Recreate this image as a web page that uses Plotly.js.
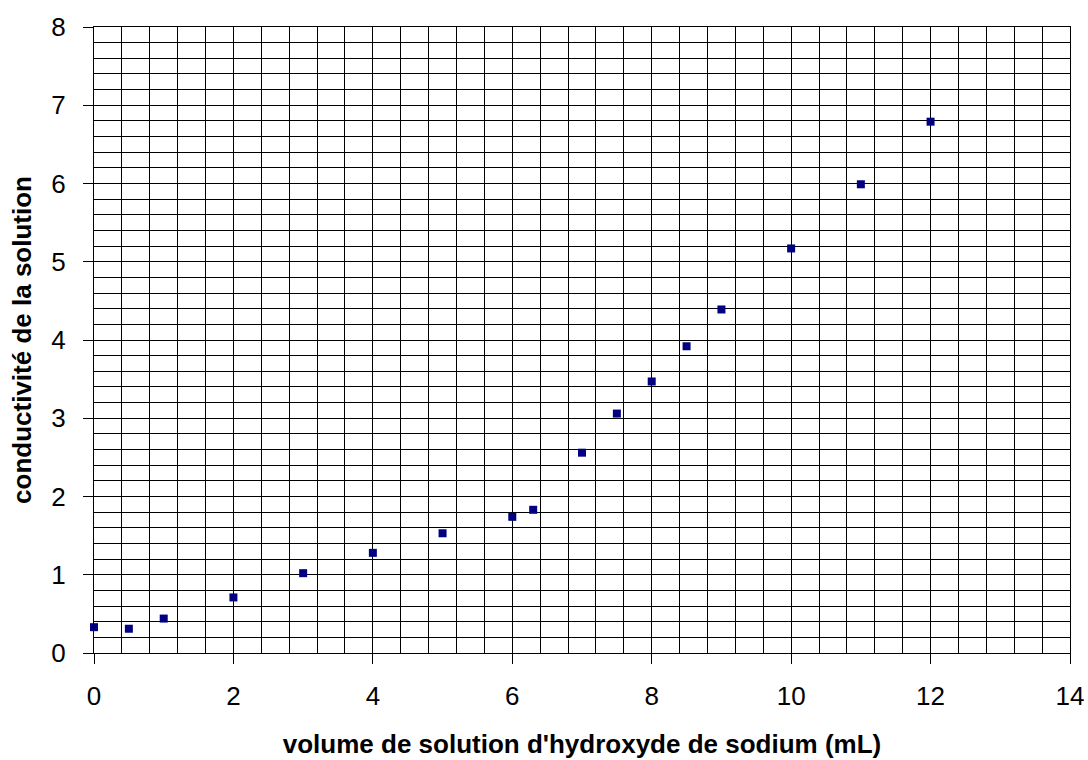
<!DOCTYPE html>
<html>
<head>
<meta charset="utf-8">
<script src="https://cdn.plot.ly/plotly-3.0.1.min.js"></script>
<style>html,body{margin:0;padding:0;background:#fff;}#chart{width:1088px;height:760px;}</style>
</head>
<body>
<div id="chart"></div>
<script>
const volume = [0, 0.5, 1, 2, 3, 4, 5, 6, 6.3, 7, 7.5, 8, 8.5, 9, 10, 11, 12];
const conductivite = [0.33, 0.31, 0.44, 0.71, 1.02, 1.28, 1.53, 1.74, 1.83, 2.56, 3.06, 3.47, 3.92, 4.39, 5.17, 5.99, 6.79];
const xTitle = "volume de solution d'hydroxyde de sodium (mL)";
const yTitle = "conductivité de la solution";

const trace = {
  x: volume, y: conductivite, type: 'scatter', mode: 'markers',
  marker: {symbol: 'square', size: 8, color: '#000080'},
  cliponaxis: false, hoverinfo: 'x+y'
};
const fam = 'Liberation Sans, Arial, sans-serif';
const layout = {
  width: 1088, height: 760,
  margin: {l: 94, r: 18, t: 27, b: 107},
  paper_bgcolor: '#fff', plot_bgcolor: '#fff',
  showlegend: false,
  font: {family: fam, color: '#000'},
  xaxis: {
    range: [0, 14], dtick: 2, tick0: 0,
    showgrid: true, gridcolor: '#000', gridwidth: 1,
    minor: {dtick: 0.4, tick0: 0, showgrid: true, gridcolor: '#000', gridwidth: 1, ticks: ''},
    ticks: 'outside', ticklen: 10, tickcolor: '#000', tickwidth: 1,
    ticklabelstandoff: 10,
    showline: true, linecolor: '#000', linewidth: 1, mirror: true,
    zeroline: false,
    tickfont: {family: fam, size: 26, color: '#000'},
    title: {text: xTitle, font: {family: fam, size: 26, color: '#000', weight: 'bold'}, standoff: 24}
  },
  yaxis: {
    range: [0, 8], dtick: 1, tick0: 0,
    showgrid: true, gridcolor: '#000', gridwidth: 1,
    minor: {dtick: 0.2, tick0: 0, showgrid: true, gridcolor: '#000', gridwidth: 1, ticks: ''},
    ticks: 'outside', ticklen: 10, tickcolor: '#000', tickwidth: 1,
    ticklabelstandoff: 12,
    showline: true, linecolor: '#000', linewidth: 1, mirror: true,
    zeroline: false,
    tickfont: {family: fam, size: 26, color: '#000'},
    title: {text: yTitle, font: {family: fam, size: 26, color: '#000', weight: 'bold'}, standoff: 12}
  }
};
Plotly.newPlot('chart', [trace], layout, {displayModeBar: false, staticPlot: true});
</script>
</body>
</html>
